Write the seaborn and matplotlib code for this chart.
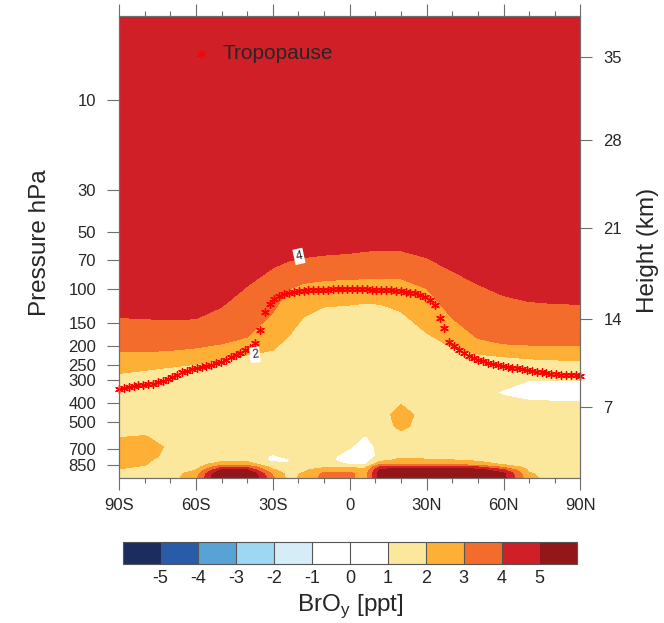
import numpy as np
import matplotlib
matplotlib.use("Agg")
import matplotlib.pyplot as plt
import seaborn as sns
from matplotlib.colors import ListedColormap, BoundaryNorm
from matplotlib.ticker import FixedLocator, NullLocator, MultipleLocator

# ---------------- data ----------------
# field grid: latitude nodes (deg)
lat_field = [-90, -80, -70, -60, -50, -40, -30, -24, -18, -10, 0, 6, 12, 20, 30, 40, 50, 60, 70, 80, 90]

# pressure (hPa) of the 4, 3 and 2 ppt isolines at each latitude node
iso4_hpa = [141, 143, 145, 143, 124, 96, 77, 71, 68, 66, 64.5, 63, 62, 62.5, 68, 80, 94, 108, 116, 119, 120]
iso3_hpa = [214, 214, 210, 204, 194, 179, 133, 100, 93, 90, 88.5, 88, 88, 88, 99, 142, 182, 194, 197, 198, 199]
iso2_hpa = [278, 268, 258, 249, 236, 222, 210, 178, 140, 124, 121, 118.5, 120, 131, 170, 204, 220, 227, 233, 236, 238]
top_hpa = 3.0
top_ppt = 4.7

# lower troposphere: BrOy (ppt) on fixed pressure levels
lev_low = [310, 350, 400, 460, 530, 600, 680, 760, 800, 840, 870, 900, 940, 993]
bry_low = [
    # -90  -80  -70  -60  -50  -40  -30  -24  -18  -10   0    6    12   20   30   40   50   60   70   80   90
    [1.5, 1.5, 1.5, 1.5, 1.5, 1.5, 1.5, 1.5, 1.5, 1.5, 1.5, 1.5, 1.5, 1.5, 1.5, 1.5, 1.5, 1.4, 0.9, 0.9, 0.9],   # 310
    [1.5, 1.5, 1.5, 1.5, 1.5, 1.5, 1.5, 1.5, 1.5, 1.5, 1.5, 1.5, 1.5, 1.5, 1.5, 1.5, 1.5, 0.85, 0.6, 0.6, 0.6],  # 350
    [1.5, 1.5, 1.5, 1.5, 1.5, 1.5, 1.5, 1.5, 1.5, 1.5, 1.5, 1.5, 1.5, 1.95, 1.5, 1.5, 1.5, 1.4, 1.15, 1.1, 1.1], # 400
    [1.5, 1.5, 1.5, 1.5, 1.5, 1.5, 1.5, 1.5, 1.5, 1.5, 1.5, 1.5, 1.5, 2.5, 1.5, 1.5, 1.5, 1.5, 1.5, 1.5, 1.5],   # 460
    [1.6, 1.6, 1.5, 1.5, 1.5, 1.5, 1.5, 1.5, 1.5, 1.5, 1.5, 1.5, 1.5, 2.25, 1.5, 1.5, 1.5, 1.5, 1.5, 1.5, 1.5],  # 530
    [1.95, 2.05, 1.6, 1.5, 1.5, 1.5, 1.5, 1.5, 1.5, 1.5, 1.3, 0.95, 1.3, 1.6, 1.5, 1.5, 1.5, 1.5, 1.5, 1.5, 1.5], # 600
    [2.45, 2.4, 1.85, 1.5, 1.5, 1.5, 1.5, 1.5, 1.5, 1.5, 1.05, 0.7, 1.2, 1.5, 1.5, 1.5, 1.5, 1.5, 1.5, 1.5, 1.5], # 680
    [2.4, 2.3, 1.75, 1.5, 1.5, 1.5, 0.9, 1.2, 1.5, 1.3, 0.7, 0.6, 1.2, 1.7, 1.6, 1.55, 1.5, 1.5, 1.5, 1.5, 1.5],  # 760
    [2.3, 2.15, 1.6, 1.5, 1.7, 1.7, 0.8, 0.9, 1.5, 1.2, 0.7, 0.6, 1.7, 2.3, 2.15, 2.05, 1.85, 1.6, 1.5, 1.5, 1.5], # 800
    [2.2, 2.05, 1.5, 1.5, 2.6, 2.5, 1.3, 1.1, 1.5, 1.4, 0.95, 0.9, 2.9, 2.9, 2.8, 2.75, 2.5, 1.9, 1.5, 1.5, 1.5], # 840
    [2.1, 1.9, 1.5, 1.6, 3.9, 3.8, 1.7, 1.5, 1.6, 1.9, 1.9, 1.8, 4.3, 4.6, 4.5, 4.4, 4.1, 2.9, 1.6, 1.5, 1.5],    # 870
    [1.95, 1.7, 1.5, 2.0, 5.0, 5.0, 2.1, 1.6, 1.8, 2.6, 2.7, 2.2, 5.2, 5.5, 5.6, 5.6, 5.4, 4.2, 1.8, 1.5, 1.5],   # 900
    [1.7, 1.6, 1.5, 2.5, 6.3, 6.3, 2.8, 1.7, 2.1, 3.2, 3.2, 2.5, 5.6, 6.0, 6.2, 6.2, 6.0, 5.2, 2.1, 1.5, 1.5],    # 940
    [1.6, 1.6, 1.5, 2.8, 6.5, 6.5, 3.2, 1.7, 2.2, 3.3, 3.2, 2.6, 5.6, 6.0, 6.2, 6.2, 6.0, 5.3, 2.3, 1.5, 1.5],    # 993
]

# tropopause (hPa) on the model latitude grid
trop_lat = [-90.00, -88.11, -86.21, -84.32, -82.42, -80.53, -78.63, -76.74, -74.84, -72.95,
            -71.05, -69.16, -67.26, -65.37, -63.47, -61.58, -59.68, -57.79, -55.89, -54.00,
            -52.11, -50.21, -48.32, -46.42, -44.53, -42.63, -40.74, -38.84, -36.95, -35.05,
            -33.16, -31.26, -29.37, -27.47, -25.58, -23.68, -21.79, -19.89, -18.00, -16.11,
            -14.21, -12.32, -10.42, -8.53, -6.63, -4.74, -2.84, -0.95, 0.95, 2.84,
            4.74, 6.63, 8.53, 10.42, 12.32, 14.21, 16.11, 18.00, 19.89, 21.79,
            23.68, 25.58, 27.47, 29.37, 31.26, 33.16, 35.05, 36.95, 38.84, 40.74,
            42.63, 44.53, 46.42, 48.32, 50.21, 52.11, 54.00, 55.89, 57.79, 59.68,
            61.58, 63.47, 65.37, 67.26, 69.16, 71.05, 72.95, 74.84, 76.74, 78.63,
            80.53, 82.42, 84.32, 86.21, 88.11, 90.00]
trop_hpa = [336, 332, 328, 325, 322, 320, 318, 315, 310, 304,
            296, 289, 282, 275, 269, 264, 260, 256, 253, 250,
            246, 242, 236, 229, 223, 217, 210, 203, 192, 164,
            131, 119, 112, 108, 106, 104, 103, 102, 102, 101,
            101, 101, 101, 101, 100, 100, 100, 100, 100, 100,
            100, 100, 101, 101, 101, 101, 101, 102, 102, 103,
            104, 105, 107, 110, 114, 121, 142, 161, 189, 200,
            210, 218, 225, 231, 236, 240, 244, 248, 251, 254,
            257, 260, 262, 265, 267, 270, 272, 274, 276, 279,
            281, 282, 283, 284, 285, 286]

# colour scale
levels = [-5, -4, -3, -2, -1, 0, 1, 2, 3, 4, 5]
level_colors = ['#1d2c5e', '#285ca8', '#58a2d5', '#9dd7f2', '#d6edf8', '#ffffff',
                '#ffffff', '#fbe89c', '#fdb035', '#f36c2b', '#d11f27', '#931619']

# axes ticks
lat_ticks = [-90, -60, -30, 0, 30, 60, 90]
lat_tick_labels = ['90S', '60S', '30S', '0', '30N', '60N', '90N']
p_ticks = [10, 30, 50, 70, 100, 150, 200, 250, 300, 400, 500, 700, 850]
height_km = [7, 14, 21, 28, 35]
height_tick_hpa = [417, 143, 47.6, 16.3, 5.95]

# ---------------- figure ----------------
sns.set_style("ticks")
plt.rcParams['font.family'] = ['Liberation Sans', 'DejaVu Sans']
plt.rcParams['axes.unicode_minus'] = False

fig = plt.figure(figsize=(6.64, 6.23), dpi=100)
ax = fig.add_axes([0.1792, 0.2327, 0.6950, 0.7416])

ncol = len(lat_field)
lat2d = np.tile(np.array(lat_field, float), (4 + len(lev_low), 1))
p_rows = [np.full(ncol, top_hpa), np.array(iso4_hpa, float), np.array(iso3_hpa, float),
          np.array(iso2_hpa, float)] + [np.full(ncol, float(p)) for p in lev_low]
p2d = np.vstack(p_rows)
z2d = np.vstack([np.full(ncol, top_ppt), np.full(ncol, 4.0), np.full(ncol, 3.0),
                 np.full(ncol, 2.0), np.array(bry_low, float)])

cmap = ListedColormap(level_colors[1:-1])
cmap.set_under(level_colors[0])
cmap.set_over(level_colors[-1])
norm = BoundaryNorm(levels, cmap.N)

cf = ax.contourf(lat2d, p2d, z2d, levels=levels, cmap=cmap, norm=norm, extend='both')

ax.set_yscale('log')
ax.set_xlim(-90, 90)
ax.set_ylim(993, 3.6)

# contour labels
lab_kw = dict(fontsize=8.5, ha='center', va='center', zorder=6,
              bbox=dict(boxstyle='square,pad=0.15', fc='white', ec='none'))
ax.text(-19.8, 67, '4', rotation=12, **lab_kw)
ax.text(-37.0, 222, '2', rotation=6, **lab_kw)

# tropopause
sns.scatterplot(x=trop_lat, y=trop_hpa, ax=ax, marker=(6, 2, 0), s=30, color='#ff0000',
                linewidth=1.0, label='Tropopause', clip_on=False, zorder=5)

leg = ax.legend(loc='center left', bbox_to_anchor=(0.159, 0.918), frameon=False, fontsize=15,
                handlelength=0.8, handletextpad=0.65, borderpad=0, borderaxespad=0)

# axes styling
spine_col = '#6e6e6e'
ax.set_xticks(lat_ticks)
ax.set_xticklabels(lat_tick_labels)
ax.xaxis.set_minor_locator(MultipleLocator(10))
ax.yaxis.set_major_locator(FixedLocator(p_ticks))
ax.yaxis.set_minor_locator(NullLocator())
ax.set_yticklabels([str(p) for p in p_ticks])
ax.tick_params(axis='x', which='major', length=8.5, width=0.8, pad=6, labelsize=12,
               top=True, bottom=True, direction='out', color=spine_col)
ax.tick_params(axis='x', which='minor', length=3.6, width=0.8, top=True, bottom=True,
               direction='out', color=spine_col)
ax.tick_params(axis='y', which='major', length=8.5, width=0.8, pad=8, labelsize=12,
               left=True, right=False, direction='out', color=spine_col)
for s in ax.spines.values():
    s.set_color(spine_col)
    s.set_linewidth(0.8)
ax.set_ylabel('Pressure hPa', fontsize=17.5)
ax.yaxis.set_label_coords(-0.147, 0.509)

ax2 = ax.twinx()
ax2.set_yscale('log')
ax2.set_ylim(993, 3.6)
ax2.yaxis.set_major_locator(FixedLocator(height_tick_hpa))
ax2.yaxis.set_minor_locator(NullLocator())
ax2.set_yticklabels([str(h) for h in height_km])
ax2.tick_params(axis='y', which='major', length=8.5, width=0.8, pad=8, labelsize=12,
                direction='out', color=spine_col)
for s in ax2.spines.values():
    s.set_color(spine_col)
    s.set_linewidth(0.8)
ax2.set_ylabel('Height (km)', fontsize=17.5, rotation=90)
ax2.yaxis.set_label_coords(1.122, 0.4935)

# colour bar
cax = fig.add_axes([0.1848, 0.0942, 0.6846, 0.0363])
cb = fig.colorbar(cf, cax=cax, orientation='horizontal', extend='both', extendrect=True,
                  extendfrac=0.1, drawedges=True, ticks=levels)
cb.ax.set_xticklabels([str(v) for v in levels])
cb.ax.tick_params(length=0, labelsize=13, pad=4)
cb.outline.set_edgecolor('#555555')
cb.outline.set_linewidth(0.8)
cb.dividers.set_color('#555555')
cb.dividers.set_linewidth(0.8)
cb.set_label('BrO$_\\mathregular{y}$ [ppt]', fontsize=17.5, labelpad=4)

fig.savefig('out.png', dpi=100)
